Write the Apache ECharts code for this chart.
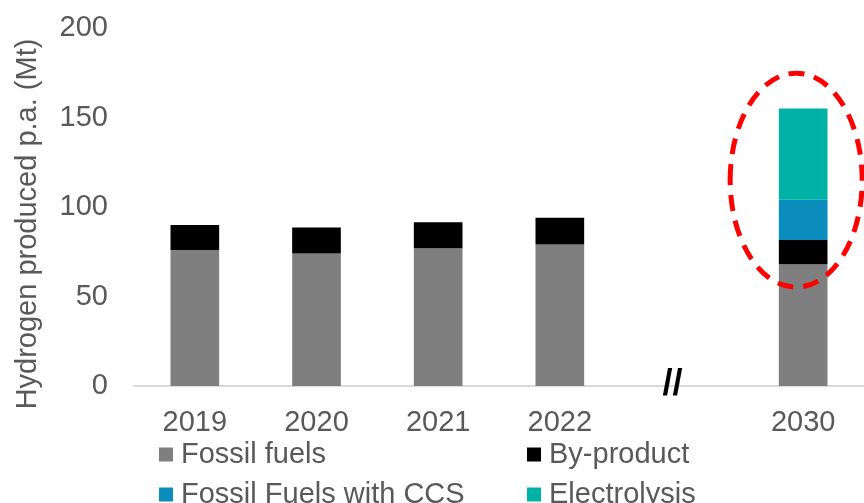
<!DOCTYPE html>
<html>
<head>
<meta charset="utf-8">
<script src="https://cdn.jsdelivr.net/npm/echarts@6/dist/echarts.min.js"></script>
<style>
  html, body { margin: 0; padding: 0; background: #ffffff; }
  #chart { width: 864px; height: 503px; }
</style>
</head>
<body>
<div id="chart"></div>
<script>
// Hydrogen production by route, Mt per year (2030 projected)
const years = ['2019', '2020', '2021', '2022', '', '2030'];
const fossilFuels = [76, 74, 77, 79, null, 68];
const byProduct = [14, 14.5, 14.5, 15, null, 13.5];
const fossilCCS = [null, null, null, null, null, 22.5];
const electrolysis = [null, null, null, null, null, 51];
const yTicks = { min: 0, max: 200, interval: 50 };

const font = "'Liberation Sans', Arial, sans-serif";
const textGrey = '#595959';
const colors = {
  'Fossil fuels': '#7f7f7f',
  'By-product': '#000000',
  'Fossil Fuels with CCS': '#0a8dbd',
  'Electrolysis': '#00b2a6'
};

const chart = echarts.init(document.getElementById('chart'));

function bar(name, data) {
  return {
    name: name,
    type: 'bar',
    stack: 'total',
    barWidth: '40%',
    data: data,
    itemStyle: { color: colors[name] },
    emphasis: { disabled: true }
  };
}

// One legend per entry so the two columns line up
function legendItem(name, left, top) {
  return {
    data: [name],
    left: left, top: top,
    itemWidth: 14, itemHeight: 14,
    icon: 'rect',
    selectedMode: false,
    textStyle: { fontFamily: font, fontSize: 29, color: textGrey, padding: [0, 0, 0, 3] }
  };
}

chart.setOption({
  animation: false,
  grid: { left: 134, right: 0, top: 28, bottom: 117 },
  legend: [
    legendItem('Fossil fuels', 154, 435),
    legendItem('By-product', 522, 435),
    legendItem('Fossil Fuels with CCS', 154, 475),
    legendItem('Electrolysis', 522, 475)
  ],
  xAxis: {
    type: 'category',
    data: years,
    axisLine: { lineStyle: { color: '#d9d9d9', width: 2 } },
    axisTick: { show: false },
    axisLabel: { fontFamily: font, fontSize: 29, color: textGrey, margin: 22, interval: 0 }
  },
  yAxis: {
    type: 'value',
    min: yTicks.min, max: yTicks.max, interval: yTicks.interval,
    name: 'Hydrogen produced p.a. (Mt)',
    nameLocation: 'middle',
    nameGap: 92,
    nameTextStyle: { fontFamily: font, fontSize: 29, color: textGrey, padding: [0, 34, 0, 0] },
    axisLine: { show: false },
    axisTick: { show: false },
    splitLine: { show: false },
    axisLabel: { fontFamily: font, fontSize: 29, color: textGrey, margin: 26 }
  },
  series: [
    bar('Fossil fuels', fossilFuels),
    bar('By-product', byProduct),
    bar('Fossil Fuels with CCS', fossilCCS),
    bar('Electrolysis', electrolysis)
  ]
});

// Annotations: axis break marker on the gap category, dashed highlight around 2030
const breakPt = chart.convertToPixel({ xAxisIndex: 0, yAxisIndex: 0 }, [4, 0]);
const ringPt = chart.convertToPixel({ xAxisIndex: 0, yAxisIndex: 0 }, [5, 115]);

chart.setOption({
  graphic: [
    {
      type: 'text',
      x: breakPt[0] - 9, y: breakPt[1] - 1,
      style: {
        text: '//', fontFamily: font, fontSize: 36, fontWeight: 'bold',
        fill: '#000000', align: 'center', verticalAlign: 'middle'
      },
      z: 10
    },
    {
      type: 'ellipse',
      shape: { cx: ringPt[0] - 7, cy: ringPt[1], rx: 66, ry: 107 },
      style: { fill: 'none', stroke: '#ff0000', lineWidth: 5, lineDash: [16, 10] },
      z: 10
    }
  ]
});
</script>
</body>
</html>
